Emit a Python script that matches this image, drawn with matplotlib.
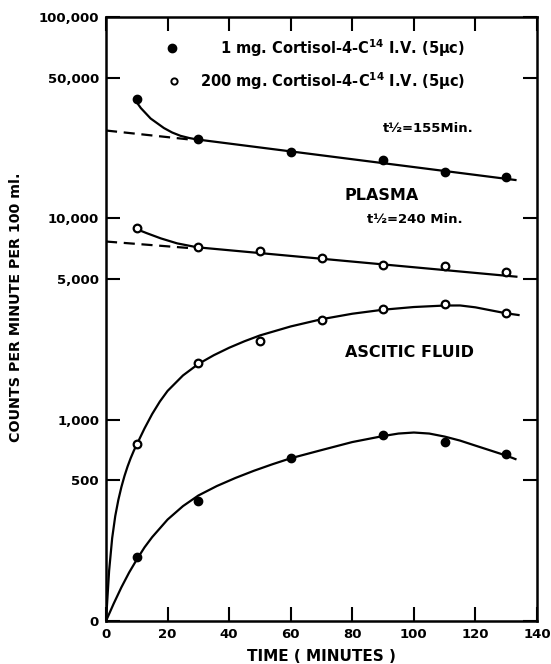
import matplotlib.pyplot as plt
import matplotlib.ticker as mt

# measured points (time in minutes, counts per minute per 100 ml)
t_plasma = [10, 30, 60, 90, 110, 130]
plasma_1mg = [39000, 24700, 21350, 19480, 16990, 15990]
t_plasma2 = [10, 30, 50, 70, 90, 110, 130]
plasma_200mg = [8910, 7230, 6880, 6330, 5860, 5815, 5390]

t_asc_1mg = [10, 30, 60, 90, 110, 130]
asc_1mg = [208, 395, 643, 836, 777, 675]
t_asc_200mg = [10, 30, 50, 70, 90, 110, 130]
asc_200mg = [757, 1904, 2458, 3126, 3530, 3750, 3370]

# hand drawn curves
c1_t = [9.3, 11.3, 14.5, 18.8, 21.5, 24.2, 27, 29.6, 133]
c1_v = [39010, 35310, 31310, 28090, 26680, 25690, 25060, 24640, 15500]
d1_t = [0, 28.6]
d1_v = [27300, 24500]

c2_t = [9.8, 13.4, 17.8, 23.1, 29.6, 133.3]
c2_v = [8850, 8420, 7950, 7510, 7180, 5130]
d2_t = [0, 28]
d2_v = [7670, 7100]

c3_t = [0, 1, 2, 3, 4, 5, 6, 7, 8, 9, 10, 12.5, 15, 17.5, 20, 25, 30, 35, 40, 45, 50,
        60, 70, 80, 90, 100, 110, 115, 120, 125, 130, 134]
c3_v = [100, 177, 258, 332, 399, 463, 525, 585, 643, 699, 753, 904, 1067, 1231, 1389,
        1658, 1891, 2089, 2276, 2452, 2620, 2904, 3154, 3358, 3516, 3626, 3688, 3691,
        3613, 3491, 3374, 3309]

c4_t = [0, 2.5, 5, 7.5, 10, 12.5, 15, 20, 25, 30, 36, 42, 48, 54, 60, 70, 80, 90, 95,
        100, 105, 110, 115, 120, 125, 130, 133]
c4_v = [100, 122, 147, 174, 202, 232, 261, 319, 372, 420, 468, 513, 557, 600, 643, 706,
        774, 829, 853, 863, 853, 824, 787, 743, 702, 663, 637]

yticks = [100, 500, 1000, 5000, 10000, 50000, 100000]
ylabels = ['0', '500', '1,000', '5,000', '10,000', '50,000', '100,000']
xticks = [0, 20, 40, 60, 80, 100, 120, 140]

plt.rcParams['font.family'] = 'DejaVu Sans'
plt.rcParams['font.weight'] = 'bold'
plt.rcParams['mathtext.default'] = 'bf'

fig = plt.figure(figsize=(5.51, 6.64), dpi=100)
ax = fig.add_axes([0.1924, 0.0648, 0.7822, 0.9096])

lw = 1.6
ax.plot(c1_t, c1_v, 'k-', lw=lw)
ax.plot(d1_t, d1_v, 'k--', lw=lw, dashes=(5, 3))
ax.plot(c2_t, c2_v, 'k-', lw=lw)
ax.plot(d2_t, d2_v, 'k--', lw=lw, dashes=(5, 3))
ax.plot(c3_t, c3_v, 'k-', lw=lw)
ax.plot(c4_t, c4_v, 'k-', lw=lw)

ax.plot(t_plasma, plasma_1mg, 'o', ms=6, color='k', zorder=3)
ax.plot(t_asc_1mg, asc_1mg, 'o', ms=6, color='k', zorder=3)
ax.plot(t_plasma2, plasma_200mg, 'o', ms=5.5, mfc='white', mec='k', mew=1.6, zorder=3)
ax.plot(t_asc_200mg, asc_200mg, 'o', ms=5.5, mfc='white', mec='k', mew=1.6, zorder=3)

ax.set_yscale('log')
ax.set_xlim(0, 140)
ax.set_ylim(100, 100000)
ax.yaxis.set_major_locator(mt.FixedLocator(yticks))
ax.yaxis.set_major_formatter(mt.FixedFormatter(ylabels))
ax.yaxis.set_minor_locator(mt.NullLocator())
ax.set_xticks(xticks)
ax.tick_params(axis='both', direction='in', length=10, width=1.5, labelsize=9.5,
               top=True, right=True, pad=5)
ax.tick_params(axis='y', labelright=False)
for s in ax.spines.values():
    s.set_linewidth(1.8)

ax.set_xlabel('TIME ( MINUTES )', fontsize=11, fontweight='bold', labelpad=6)
ax.set_ylabel('COUNTS PER MINUTE PER 100 ml.', fontsize=10.3, fontweight='bold')
ax.yaxis.set_label_coords(-0.193, 0.52)

# legend drawn by hand like the original
tr = ax.transAxes
ax.plot([0.153], [0.949], 'o', ms=6, color='k', transform=tr, clip_on=False)
ax.plot([0.158], [0.894], 'o', ms=4.5, mfc='white', mec='k', mew=1.4, transform=tr, clip_on=False)
ax.text(0.833, 0.949, '1 mg. Cortisol-4-C$^{14}$ I.V. (5\u03bcc)', transform=tr,
        ha='right', va='center', fontsize=10.5)
ax.text(0.833, 0.894, '200 mg. Cortisol-4-C$^{14}$ I.V. (5\u03bcc)', transform=tr,
        ha='right', va='center', fontsize=10.5)

ax.text(0.747, 0.816, 't\u00bd=155Min.', transform=tr, ha='center', va='center', fontsize=9.5)
ax.text(0.640, 0.704, 'PLASMA', transform=tr, ha='center', va='center', fontsize=11.5)
ax.text(0.717, 0.664, 't\u00bd=240 Min.', transform=tr, ha='center', va='center', fontsize=9.5)
ax.text(0.705, 0.444, 'ASCITIC FLUID', transform=tr, ha='center', va='center', fontsize=11.5)

fig.savefig('out.png', dpi=100)
